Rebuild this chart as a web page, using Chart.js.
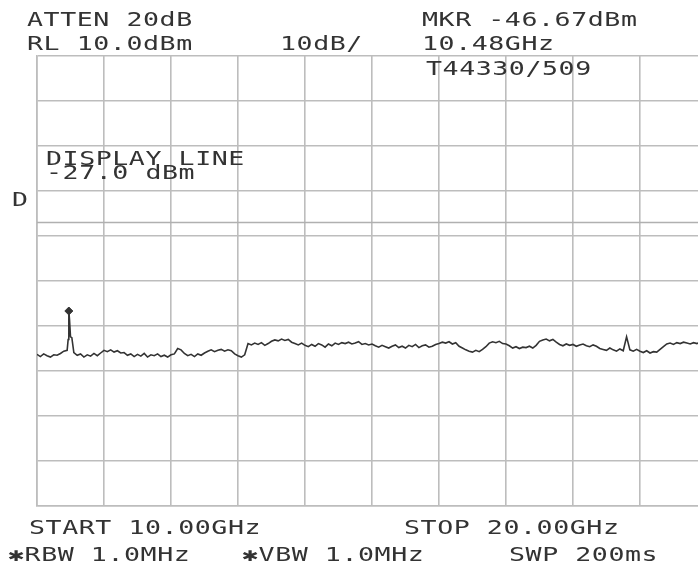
<!DOCTYPE html>
<html>
<head>
<meta charset="utf-8">
<script src="https://cdn.jsdelivr.net/npm/chart.js@4/dist/chart.umd.min.js"></script>
<style>
  html, body { margin: 0; padding: 0; background: #fff; }
  canvas { display: block; }
</style>
</head>
<body>
<canvas id="sa" width="698" height="565"></canvas>
<script>
// sweep: 10 GHz to 20 GHz, one reading every 0.05 GHz (dBm)
const sweepStartGHz = 10.0;
const sweepStepGHz = 0.05;
const traceDbm = [
  -56.3, -56.8, -56.2, -56.6, -56.9, -56.4, -56.5, -56.1, -55.6, -55.4,
  -52.4, -55.9, -56.5, -56.2, -56.9, -56.4, -56.7, -56.1, -56.6, -56.0,
  -55.4, -55.7, -55.3, -55.8, -55.5, -56.0, -55.9, -56.5, -56.2, -56.8,
  -56.3, -56.7, -56.1, -56.9, -56.4, -56.6, -56.2, -56.8, -56.5, -56.9,
  -56.4, -56.2, -55.0, -55.3, -56.1, -56.6, -56.3, -56.8, -56.2, -56.5,
  -56.0, -55.6, -55.3, -55.7, -55.4, -55.2, -55.6, -55.3, -55.5, -56.2,
  -56.6, -56.9, -56.4, -53.9, -54.2, -53.8, -54.1, -53.7, -54.3, -53.9,
  -53.4, -53.1, -53.3, -52.9, -53.2, -53.0, -53.6, -53.9, -54.2, -53.8,
  -54.3, -54.6, -54.1, -54.5, -53.9, -54.2, -54.7, -54.0, -54.4, -53.8,
  -54.1, -53.7, -53.9, -53.6, -54.0, -53.8, -53.5, -54.1, -53.9, -54.2,
  -54.0, -54.4, -54.7, -54.3, -54.6, -54.9, -54.5, -54.2, -54.8, -54.5,
  -54.9, -54.3, -54.6, -54.1, -54.8, -54.4, -54.2, -54.7, -54.5, -54.1,
  -53.9, -53.6, -53.8, -53.5, -54.0, -53.7, -54.5, -54.9, -55.3, -55.6,
  -55.8, -55.4, -55.7, -55.2, -54.6, -53.8, -53.5, -53.7, -53.4, -53.9,
  -54.0, -54.4, -54.9, -54.6, -55.0, -54.7, -54.8, -54.5, -54.9, -54.3,
  -53.4, -53.1, -52.9, -53.3, -53.0, -53.6, -54.1, -54.4, -54.0, -54.3,
  -54.1, -54.5, -54.2, -54.0, -54.4, -54.6, -54.2, -54.5, -55.0, -55.2,
  -55.4, -54.9, -55.3, -55.6, -55.1, -55.5, -52.4, -55.3, -55.6, -55.2,
  -55.6, -55.9, -55.5, -56.0, -55.7, -55.8, -55.2, -54.6, -54.0, -53.8,
  -54.1, -53.7, -53.9, -53.6, -53.8, -54.0, -53.7, -53.9, -53.6
];
// extra readings on the narrow signal near 10.48 GHz
const spikeGHz = [10.465, 10.475, 10.485, 10.52];
const spikeDbm = [-53.0, -46.67, -48.5, -52.6];

const markerGHz = [10.475];
const markerDbm = [-46.67];
const displayLineDbm = -27.0;

// screen: RL 10 dBm, 10 dB/div, 10 divisions; 1 GHz/div, right edge cut off
const refLevel = 10;
const bottomLevel = -90;
const visibleStopGHz = 19.866;

const topLines = ['ATTEN 20dB', 'RL 10.0dBm', '10dB/', 'MKR -46.67dBm', '10.48GHz', 'T44330/509'];
const bottomLines = ['START 10.00GHz', 'STOP 20.00GHz', '\u2731RBW 1.0MHz', '\u2731VBW 1.0MHz', 'SWP 200ms'];
const dlLabel = ['DISPLAY LINE', '-27.0 dBm', 'D'];

let trace = traceDbm.map((v, i) => ({ x: +(sweepStartGHz + i * sweepStepGHz).toFixed(3), y: v }));
spikeGHz.forEach((f, i) => trace.push({ x: f, y: spikeDbm[i] }));
trace.sort((a, b) => a.x - b.x);

const gridCol = '#bdbdbd';
const ink = '#333';

// wide, squat screen lettering
function mono(ctx, s, x, y) {
  ctx.save();
  ctx.translate(x, y);
  ctx.scale(1.4, 1);
  ctx.letterSpacing = '0.4px';
  ctx.fillText(s, 0, 0);
  ctx.restore();
}

const readout = {
  id: 'readout',
  afterDraw(chart) {
    const ctx = chart.ctx;
    ctx.save();
    ctx.fillStyle = ink;
    ctx.font = '19px "DejaVu Sans Mono"';
    ctx.textBaseline = 'alphabetic';
    mono(ctx, topLines[0], 27, 26);
    mono(ctx, topLines[1], 27, 50);
    mono(ctx, topLines[2], 280, 50);
    mono(ctx, topLines[3], 422, 26);
    mono(ctx, topLines[4], 422, 50);
    mono(ctx, topLines[5], 426, 75);
    mono(ctx, dlLabel[0], 46, 165);
    mono(ctx, dlLabel[1], 46, 179);
    mono(ctx, dlLabel[2], 12, 206);
    mono(ctx, bottomLines[0], 29, 534);
    mono(ctx, bottomLines[1], 404, 534);
    mono(ctx, bottomLines[2], 8, 561);
    mono(ctx, bottomLines[3], 242, 561);
    mono(ctx, bottomLines[4], 509, 561);
    ctx.restore();
  }
};

new Chart(document.getElementById('sa'), {
  type: 'line',
  data: {
    datasets: [
      {
        label: 'trace',
        data: trace,
        borderColor: ink,
        borderWidth: 1.6,
        pointRadius: 0,
        tension: 0
      },
      {
        label: 'display line',
        data: [{ x: sweepStartGHz, y: displayLineDbm }, { x: visibleStopGHz, y: displayLineDbm }],
        borderColor: '#b0b0b0',
        borderWidth: 1.6,
        pointRadius: 0
      },
      {
        label: 'marker',
        data: markerGHz.map((f, i) => ({ x: f, y: markerDbm[i] })),
        showLine: false,
        pointStyle: 'rectRot',
        pointRadius: 4,
        backgroundColor: ink,
        borderColor: ink
      }
    ]
  },
  options: {
    responsive: false,
    animation: false,
    layout: { autoPadding: false, padding: { left: 37, top: 56, right: 0, bottom: 59 } },
    plugins: { legend: { display: false }, tooltip: { enabled: false } },
    scales: {
      x: {
        type: 'linear',
        min: sweepStartGHz,
        max: visibleStopGHz,
        ticks: { display: false, stepSize: 1, includeBounds: false },
        grid: { color: gridCol, lineWidth: 1.6, drawTicks: false },
        border: { color: gridCol, width: 1.6 }
      },
      y: {
        min: bottomLevel,
        max: refLevel,
        ticks: { display: false, stepSize: 10 },
        grid: { color: gridCol, lineWidth: 1.6, drawTicks: false },
        border: { color: gridCol, width: 1.6 }
      }
    }
  },
  plugins: [readout]
});
</script>
</body>
</html>
